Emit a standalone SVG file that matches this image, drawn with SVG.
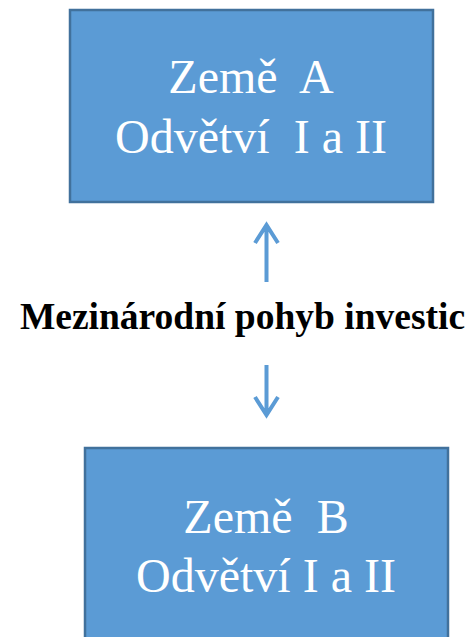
<svg xmlns="http://www.w3.org/2000/svg" width="470" height="637" viewBox="0 0 470 637">
<style>
.box{fill:#5B9BD5;stroke:#41719C;stroke-width:2.5}
.bt{font-family:"Liberation Serif","Times New Roman",serif;font-size:48px;fill:#fff;text-anchor:middle}
.lbl{font-family:"Liberation Serif","Times New Roman",serif;font-size:37.5px;font-weight:bold;fill:#000;text-anchor:middle}
.ar{stroke:#5B9BD5;stroke-width:4;fill:none;stroke-linecap:butt;stroke-linejoin:miter}
</style>
<rect width="470" height="637" fill="#fff"/>
<g id="nodeA">
<rect class="box" x="70" y="10" width="363" height="192"/>
<text class="bt" x="251" y="93" xml:space="preserve">Země  A</text>
<text class="bt" x="251" y="153" xml:space="preserve">Odvětví  I a II</text>
</g>
<g id="nodeB">
<rect class="box" x="85" y="448" width="363" height="200"/>
<text class="bt" x="266" y="533" xml:space="preserve">Země  B</text>
<text class="bt" x="266" y="592">Odvětví I a II</text>
</g>
<g id="label">
<text class="lbl" x="242.5" y="329">Mezinárodní pohyb investic</text>
</g>
<g id="connectors">
<path class="ar" d="M266.5,282 V225 M255,243 L266.5,225 L278,243"/>
<path class="ar" d="M266.5,365 V415 M255,397 L266.5,415 L278,397"/>
</g>
</svg>
